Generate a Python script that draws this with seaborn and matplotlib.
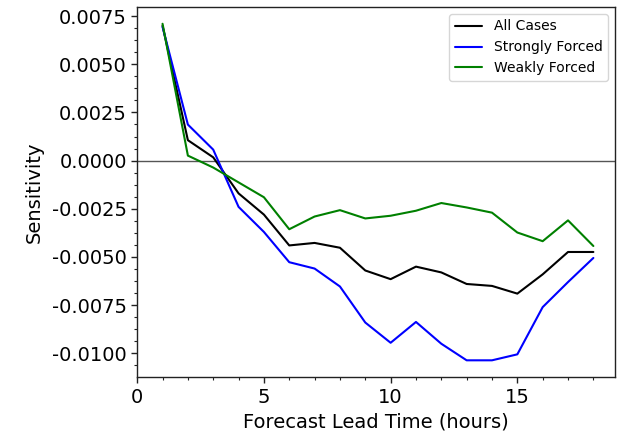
import numpy as np
import pandas as pd
import matplotlib
matplotlib.use("Agg")
import matplotlib.pyplot as plt
from matplotlib.ticker import AutoMinorLocator
import seaborn as sns

lead_hours = list(range(1, 19))
all_cases = [0.0070, 0.00106, 0.00017, -0.0017, -0.0028, -0.0044, -0.00427, -0.00452,
             -0.0057, -0.00615, -0.0055, -0.0058, -0.0064, -0.0065, -0.0069, -0.0059,
             -0.00474, -0.00474]
strongly_forced = [0.00694, 0.00187, 0.00057, -0.0024, -0.0037, -0.00527, -0.0056, -0.00653,
                   -0.0084, -0.00945, -0.00837, -0.0095, -0.01036, -0.01036, -0.01005,
                   -0.0076, -0.0063, -0.00505]
weakly_forced = [0.0071, 0.00026, -0.00036, -0.00113, -0.0019, -0.00356, -0.0029, -0.00257,
                 -0.0030, -0.00286, -0.0026, -0.0022, -0.00243, -0.0027, -0.00373, -0.00418,
                 -0.0031, -0.00443]
series_names = ["All Cases", "Strongly Forced", "Weakly Forced"]
series_colors = ["black", "blue", "green"]

df = pd.concat([
    pd.DataFrame({"hour": lead_hours, "sens": vals, "group": name})
    for name, vals in zip(series_names, [all_cases, strongly_forced, weakly_forced])
])

sns.set_style("ticks", {"text.color": "black", "axes.labelcolor": "black",
                        "xtick.color": "black", "ytick.color": "black",
                        "axes.edgecolor": "#222222"})
plt.rcParams["font.family"] = ["DejaVu Sans"]

fig = plt.figure(figsize=(6.18, 4.33), dpi=100)
ax = fig.add_axes([0.222, 0.129, 0.773, 0.855])

ax.axhline(0, color="#555555", linewidth=1.0, zorder=1)
sns.lineplot(data=df, x="hour", y="sens", hue="group", palette=series_colors,
             hue_order=series_names, linewidth=1.5, ax=ax, zorder=3)

ax.set_xlim(left=0)
ax.set_xticks([0, 5, 10, 15])
ax.set_yticks([-0.0100, -0.0075, -0.0050, -0.0025, 0.0, 0.0025, 0.0050, 0.0075])
ax.yaxis.set_major_formatter(matplotlib.ticker.FormatStrFormatter("%.4f"))
ax.xaxis.set_minor_locator(AutoMinorLocator(5))
ax.yaxis.set_minor_locator(AutoMinorLocator(4))
ax.tick_params(axis="both", which="major", labelsize=14, length=4, width=1,
               color="#222222", labelcolor="black")
ax.tick_params(axis="both", which="minor", length=2.5, width=0.8, color="#222222")
for sp in ax.spines.values():
    sp.set_color("#222222")
    sp.set_linewidth(1.0)

ax.set_xlabel("Forecast Lead Time (hours)", fontsize=14, color="black")
ax.set_ylabel("Sensitivity", fontsize=14, color="black", labelpad=6)

leg = ax.legend(loc="upper right", fontsize=10, frameon=True, framealpha=0.8,
                edgecolor="#cccccc", handlelength=2.0)
for t in leg.get_texts():
    t.set_color("black")

fig.savefig("out.png", dpi=100)
